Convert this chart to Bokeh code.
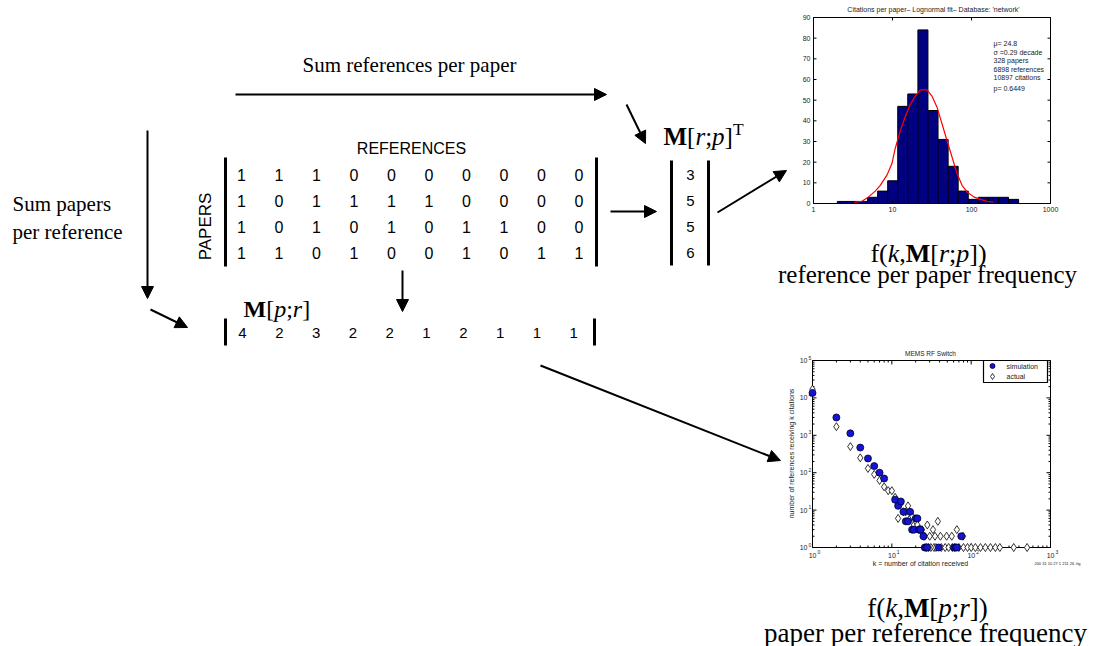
import numpy as np
from bokeh.plotting import figure
from bokeh.plotting.glyph_api import GlyphAPI
from bokeh.models import Range1d, LogScale, LinearScale, Arrow, NormalHead, CoordinateMapping
from bokeh.core.properties import value
from bokeh.embed import file_html
from bokeh.resources import INLINE

W, H = 1102, 646

# ---- incidence matrix: rows = papers, columns = references ----
matrix = [
    [1, 1, 1, 0, 0, 0, 0, 0, 0, 0],
    [1, 0, 1, 1, 1, 1, 0, 0, 0, 0],
    [1, 0, 1, 0, 1, 0, 1, 1, 0, 0],
    [1, 1, 0, 1, 0, 0, 1, 0, 1, 1],
]
refs_per_paper = [3, 5, 5, 6]
papers_per_ref = [4, 2, 3, 2, 2, 1, 2, 1, 1, 1]

# ---- references-per-paper histogram (log-spaced bins) ----
bin_edges = [2.0, 2.69, 3.6, 4.83, 6.48, 8.69, 11.65, 15.6, 20.97, 28.1,
             37.7, 50.6, 67.8, 91.0, 122, 164, 220, 294, 395]
bin_counts = [1, 1, 1, 3, 6, 11, 47, 53, 84, 45, 31, 18, 6, 2, 3, 3, 3, 2]
fit_k = [3.28, 4.10, 4.98, 6.05, 7.00, 8.50, 9.84, 10.8, 12.5, 14.5, 16.8,
         19.4, 22.5, 27.3, 31.6, 36.6, 42.3, 49.0, 56.7, 65.6, 75.9, 87.8,
         106.6, 129.5, 157.4, 191]
fit_n = [0.5, 1.1, 3.2, 6.0, 8.8, 13.7, 19.3, 26.5, 35, 42, 48, 52, 55, 55,
         52, 46.6, 38.6, 30.5, 22.5, 14.5, 8.8, 5.6, 3.2, 2.0, 1.1, 0.6]
hist_stats = ["\u03bc= 24.8", "\u03c3 =0.29 decade", "328  papers",
              "6898 references", "10897 citations", "p= 0.6449"]
hist_xticks = [1, 10, 100, 1000]
hist_yticks = [0, 10, 20, 30, 40, 50, 60, 70, 80, 90]

# ---- papers-per-reference distribution ----
sim_k = [1, 2, 3, 4, 5, 6, 7, 8, 11, 12, 13, 14, 15, 16, 17, 18, 19, 20,
         21, 22, 23, 25, 26, 27, 28, 39, 61, 64, 66, 75]
sim_n = [13600, 3000, 1130, 470, 240, 150, 100, 70, 19, 13, 17, 9, 5, 5, 9,
         3, 3, 6, 6, 3, 3, 2, 1, 1, 1, 1, 1, 1, 1, 2]
act_k = [1, 2, 3, 4, 5, 6, 7, 8, 9, 10, 11, 12, 13, 14, 15, 16, 17, 18, 19,
         20, 21, 22, 23, 24, 25, 26, 28, 30, 33, 35, 38, 41, 49, 57, 66, 79,
         27, 29, 31, 34, 36, 42, 47, 52, 58, 62, 70, 80, 90, 100, 113, 131,
         151, 175, 202, 230, 344, 507]
act_n = [17000, 1700, 500, 250, 130, 90, 62, 42, 33, 33, 22, 6, 15, 9, 9,
         13, 6, 7, 4, 5, 4, 3, 3, 3, 2, 2, 4, 2, 3, 2, 5, 2, 2, 2, 3, 2,
         1, 1, 1, 1, 1, 1, 1, 1, 1, 1, 1, 1, 1, 1, 1, 1, 1, 1, 1, 1, 1, 1]
log_decades_x = [1, 10, 100, 1000]
log_decades_y = [1, 10, 100, 1000, 10000, 100000]

SERIF = value("Liberation Serif")
SANS = value("Liberation Sans")
INK = "#222222"
SIM_BLUE = "#1414d2"

p = figure(width=W, height=H, x_range=Range1d(0, W), y_range=Range1d(H, 0),
           x_axis_type=None, y_axis_type=None, output_backend="svg",
           toolbar_location=None, min_border=0, outline_line_color=None,
           background_fill_color="white", border_fill_color="white")
p.xgrid.visible = False
p.ygrid.visible = False

# pixel boxes of the two chart panels
HIST = dict(left=813, right=1050, top=17, bottom=203)
SCAT = dict(left=812, right=1050, top=360, bottom=547)


def panel(box, xr=None, yr=None, xlog=False, ylog=False):
    """Glyph API mapping data ranges into a pixel box (None = pixel axis)."""
    if xr is None:
        xs, xt, xsc = p.x_range, p.x_range, LinearScale()
    else:
        xs, xt = Range1d(*xr), Range1d(box["left"], box["right"])
        xsc = LogScale() if xlog else LinearScale()
    if yr is None:
        ys, yt, ysc = p.y_range, p.y_range, LinearScale()
    else:
        ys, yt = Range1d(*yr), Range1d(box["bottom"], box["top"])
        ysc = LogScale() if ylog else LinearScale()
    mapping = CoordinateMapping(x_source=xs, y_source=ys, x_scale=xsc, y_scale=ysc,
                                x_target=xt, y_target=yt)
    return GlyphAPI(p, mapping)


# ---------------- rich serif labels ----------------
TIMES = {
    "normal": {" ": 250, "(": 333, ")": 333, ",": 250, ";": 278, "[": 333,
               "]": 333, "T": 611, "f": 333},
    "italic": {"k": 444, "r": 389, "p": 500},
    "bold": {"M": 944},
}


def rich(pieces, x, y, size, anchor="center"):
    widths = []
    for txt, style, scale, rise in pieces:
        widths.append(sum(TIMES[style].get(ch, 500) for ch in txt) / 1000 * size * scale)
    cur = x - sum(widths) / 2 if anchor == "center" else x
    for (txt, style, scale, rise), w in zip(pieces, widths):
        p.text(x=[cur], y=[y - rise * size], text=[txt], text_font=SERIF,
               text_font_style=style, text_font_size=f"{size * scale:.1f}px",
               text_align="left", text_baseline="alphabetic", text_color="black")
        cur += w


def serif(txt, x, y, size, align="center"):
    p.text(x=[x], y=[y], text=[txt], text_font=SERIF, text_font_size=f"{size}px",
           text_align=align, text_baseline="middle", text_color="black")


def mat_index(a, b):
    return [("M", "bold", 1, 0), ("[", "normal", 1, 0), (a, "italic", 1, 0),
            (";", "normal", 1, 0), (b, "italic", 1, 0), ("]", "normal", 1, 0)]


# ---------------- left diagram ----------------
serif("Sum references per paper", 409, 64, 21)
serif("Sum papers", 12, 203, 21, "left")
serif("per reference", 12, 231, 21, "left")

arrows = [((235, 94), (606, 94)), ((626, 104), (645, 143)),
          ((147, 130), (147, 298)), ((150, 309), (187, 327)),
          ((402, 270), (402, 311)), ((610, 211), (656, 211)),
          ((717, 212), (786, 170)), ((540, 365), (780, 460))]
for (x0, y0), (x1, y1) in arrows:
    p.add_layout(Arrow(end=NormalHead(size=12, fill_color="black", line_color="black"),
                       x_start=x0, y_start=y0, x_end=x1, y_end=y1,
                       line_width=2, line_color="black"))

p.text(x=[411], y=[148], text=["REFERENCES"], text_font=SANS, text_font_size="16px",
       text_align="center", text_baseline="middle", text_color="black")
p.text(x=[205], y=[226], text=["PAPERS"], text_font=SANS, text_font_size="17px",
       angle=np.pi / 2, text_align="center", text_baseline="middle", text_color="black")

# matrix brackets and entries
p.segment(x0=[225, 596], y0=[157, 157], x1=[225, 596], y1=[266, 266],
          line_width=3, line_color="black")
row_y = [174, 200, 226, 252]
mx, my, mt = [], [], []
for r, row in enumerate(matrix):
    for c, v in enumerate(row):
        mx.append(241 + 37.5 * c)
        my.append(row_y[r])
        mt.append(str(v))
p.text(x=mx, y=my, text=mt, text_font=SANS, text_font_size="16px",
       text_align="center", text_baseline="middle", text_color="black")

# column vector of references per paper
rich(mat_index("r", "p") + [("T", "normal", 0.7, 0.3)], 663, 136, 25, anchor="left")
p.segment(x0=[671, 708], y0=[160, 160], x1=[671, 708], y1=[265, 265],
          line_width=3, line_color="black")
p.text(x=[690] * 4, y=row_y, text=[str(v) for v in refs_per_paper], text_font=SANS,
       text_font_size="15px", text_align="center", text_baseline="middle",
       text_color="black")

# row vector of papers per reference
rich(mat_index("p", "r"), 243, 308, 24, anchor="left")
p.segment(x0=[225, 594], y0=[318, 318], x1=[225, 594], y1=[345, 345],
          line_width=3, line_color="black")
p.text(x=[242 + 36.8 * c for c in range(10)], y=[332] * 10,
       text=[str(v) for v in papers_per_ref], text_font=SANS, text_font_size="15px",
       text_align="center", text_baseline="middle", text_color="black")

# captions under the two charts
fk = lambda a, b: ([("f(", "normal", 1, 0), ("k", "italic", 1, 0), (",", "normal", 1, 0)]
                   + mat_index(a, b) + [(")", "normal", 1, 0)])
rich(fk("r", "p"), 928, 253, 26)
serif("reference per paper frequency", 927, 274, 25)
rich(fk("p", "r"), 927, 607, 27)
serif("paper per reference frequency", 925, 632, 27)

# ---------------- histogram panel ----------------
h = panel(HIST, (1, 1000), (0, 90), xlog=True)
hx = panel(HIST, xr=(1, 1000), xlog=True)
hy = panel(HIST, yr=(0, 90))

h.quad(left=bin_edges[:-1], right=bin_edges[1:], bottom=0, top=bin_counts,
       fill_color="#000080", line_color="black", line_width=1)
h.line(fit_k, fit_n, line_color="red", line_width=1.2)
h.quad(left=[1], right=[1000], bottom=[0], top=[90], fill_color=None,
       line_color="black", line_width=1)

nb = len(hist_xticks)
hx.segment(x0=hist_xticks, y0=[HIST["bottom"]] * nb, x1=hist_xticks,
           y1=[HIST["bottom"] - 3] * nb, line_color="black")
hx.segment(x0=hist_xticks, y0=[HIST["top"]] * nb, x1=hist_xticks,
           y1=[HIST["top"] + 3] * nb, line_color="black")
hx.text(x=hist_xticks, y=[HIST["bottom"] + 3] * nb, text=[str(t) for t in hist_xticks],
        text_font=SANS, text_font_size="7px", text_align="center",
        text_baseline="top", text_color=INK)
ny = len(hist_yticks)
hy.segment(x0=[HIST["left"]] * ny, y0=hist_yticks, x1=[HIST["left"] + 3] * ny,
           y1=hist_yticks, line_color="black")
hy.segment(x0=[HIST["right"]] * ny, y0=hist_yticks, x1=[HIST["right"] - 3] * ny,
           y1=hist_yticks, line_color="black")
hy.text(x=[HIST["left"] - 3] * ny, y=hist_yticks, text=[str(t) for t in hist_yticks],
        text_font=SANS, text_font_size="7px", text_align="right",
        text_baseline="middle", text_color=INK)

p.text(x=[933], y=[9], text=["Citations per paper\u2013 Lognormal fit\u2013 Database: 'network'"],
       text_font=SANS, text_font_size="7px", text_align="center",
       text_baseline="middle", text_color=INK)
p.text(x=[993] * len(hist_stats), y=[43, 51.5, 60, 68.5, 77, 87.5], text=hist_stats,
       text_font=SANS, text_font_size="7px", text_align="left",
       text_baseline="middle", text_color=INK)

# ---------------- log-log scatter panel ----------------
s = panel(SCAT, (1, 1000), (1, 1e5), xlog=True, ylog=True)
sx = panel(SCAT, xr=(1, 1000), xlog=True)
sy = panel(SCAT, yr=(1, 1e5), ylog=True)

s.quad(left=[1], right=[1000], bottom=[1], top=[1e5], fill_color=None,
       line_color="black", line_width=1)

minor_x = [m * d for d in log_decades_x[:-1] for m in range(2, 10)]
minor_y = [m * d for d in log_decades_y[:-1] for m in range(2, 10)]
for ticks, ln in ((log_decades_x, 4), (minor_x, 2)):
    n = len(ticks)
    sx.segment(x0=ticks, y0=[SCAT["bottom"]] * n, x1=ticks,
               y1=[SCAT["bottom"] - ln] * n, line_color="black")
    sx.segment(x0=ticks, y0=[SCAT["top"]] * n, x1=ticks,
               y1=[SCAT["top"] + ln] * n, line_color="black")
for ticks, ln in ((log_decades_y, 4), (minor_y, 2)):
    n = len(ticks)
    sy.segment(x0=[SCAT["left"]] * n, y0=ticks, x1=[SCAT["left"] + ln] * n,
               y1=ticks, line_color="black")
    sy.segment(x0=[SCAT["right"]] * n, y0=ticks, x1=[SCAT["right"] - ln] * n,
               y1=ticks, line_color="black")

nx, nyd = len(log_decades_x), len(log_decades_y)
sx.text(x=log_decades_x, y=[SCAT["bottom"] + 5] * nx, text=["10"] * nx, x_offset=4,
        text_font=SANS, text_font_size="7px", text_align="right",
        text_baseline="top", text_color=INK)
sx.text(x=log_decades_x, y=[SCAT["bottom"] + 2] * nx,
        text=[str(int(np.log10(t))) for t in log_decades_x], x_offset=5,
        text_font=SANS, text_font_size="5px", text_align="left",
        text_baseline="top", text_color=INK)
sy.text(x=[SCAT["left"] - 5] * nyd, y=log_decades_y, text=["10"] * nyd,
        text_font=SANS, text_font_size="7px", text_align="right",
        text_baseline="middle", text_color=INK)
sy.text(x=[SCAT["left"] - 4] * nyd, y=log_decades_y,
        text=[str(int(np.log10(t))) for t in log_decades_y], y_offset=-3,
        text_font=SANS, text_font_size="5px", text_align="left",
        text_baseline="middle", text_color=INK)

s.scatter(act_k, act_n, marker="diamond", size=8, fill_color="white",
          line_color="black", line_width=0.8)
s.scatter(sim_k, sim_n, marker="circle", size=7, fill_color=SIM_BLUE,
          line_color="#000030", line_width=0.8)

p.text(x=[930], y=[353], text=["MEMS RF Switch"], text_font=SANS,
       text_font_size="6.5px", text_align="center", text_baseline="middle",
       text_color=INK)
p.text(x=[920], y=[563], text=["k = number of citation received"], text_font=SANS,
       text_font_size="7px", text_align="center", text_baseline="middle",
       text_color=INK)
p.text(x=[791], y=[453], text=["number of references receiving k citations"],
       angle=np.pi / 2, text_font=SANS, text_font_size="7px", text_align="center",
       text_baseline="middle", text_color=INK)
p.text(x=[1057], y=[563], text=["200 31 10 27 1 211 26 .fig"], text_font=SANS,
       text_font_size="4px", text_align="center", text_baseline="middle",
       text_color=INK)

# legend box of the scatter panel
p.quad(left=[983], right=[1047], top=[360], bottom=[382], fill_color="white",
       line_color="black", line_width=1.2)
p.scatter([992], [365.5], marker="circle", size=5, fill_color=SIM_BLUE,
          line_color="#000030", line_width=0.8)
p.scatter([992], [376], marker="diamond", size=6, fill_color="white",
          line_color="black", line_width=0.8)
p.text(x=[1006, 1006], y=[365.5, 376], text=["simulation", "actual"], text_font=SANS,
       text_font_size="7px", text_align="left", text_baseline="middle",
       text_color=INK)

open("out.html", "w").write(file_html(p, INLINE))
